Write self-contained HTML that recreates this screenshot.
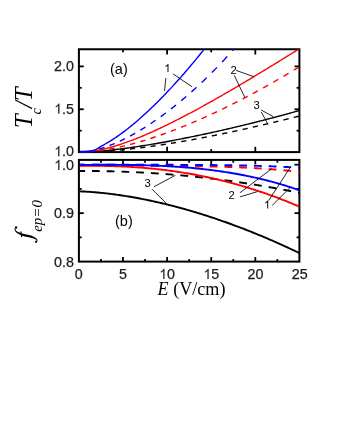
<!DOCTYPE html>
<html><head><meta charset="utf-8"><title>chart</title>
<style>html,body{margin:0;padding:0;background:#fff;}body{width:340px;height:440px;overflow:hidden;position:relative;font-family:"Liberation Sans",sans-serif;}</style></head>
<body>
<svg width="340" height="440" viewBox="0 0 340 440" style="position:absolute;left:0;top:0;will-change:transform">
<rect x="0" y="0" width="340" height="440" fill="#fff"/>
<defs><clipPath id="ct"><rect x="79.90" y="49.26" width="219.80" height="103.84"/></clipPath><clipPath id="cb"><rect x="79.90" y="159.90" width="219.80" height="102.70"/></clipPath></defs>
<g stroke="#000" stroke-width="2.0" fill="none" stroke-linecap="butt">
<rect x="78.9" y="49.26" width="220.49999999999997" height="102.84"/>
<rect x="78.9" y="159.90" width="220.49999999999997" height="101.70"/>
</g>
<g stroke="#000" stroke-width="1.8" fill="none" stroke-linecap="butt">
<line x1="100.95" y1="159.90" x2="100.95" y2="162.70"/>
<line x1="100.95" y1="261.60" x2="100.95" y2="259.10"/>
<line x1="123.00" y1="49.26" x2="123.00" y2="52.26"/>
<line x1="123.00" y1="152.10" x2="123.00" y2="149.10"/>
<line x1="123.00" y1="159.90" x2="123.00" y2="164.30"/>
<line x1="123.00" y1="261.60" x2="123.00" y2="257.10"/>
<line x1="145.05" y1="159.90" x2="145.05" y2="162.70"/>
<line x1="145.05" y1="261.60" x2="145.05" y2="259.10"/>
<line x1="167.10" y1="49.26" x2="167.10" y2="54.56"/>
<line x1="167.10" y1="152.10" x2="167.10" y2="146.80"/>
<line x1="167.10" y1="159.90" x2="167.10" y2="164.30"/>
<line x1="167.10" y1="261.60" x2="167.10" y2="257.10"/>
<line x1="189.15" y1="159.90" x2="189.15" y2="162.70"/>
<line x1="189.15" y1="261.60" x2="189.15" y2="259.10"/>
<line x1="211.20" y1="49.26" x2="211.20" y2="52.26"/>
<line x1="211.20" y1="152.10" x2="211.20" y2="149.10"/>
<line x1="211.20" y1="159.90" x2="211.20" y2="164.30"/>
<line x1="211.20" y1="261.60" x2="211.20" y2="257.10"/>
<line x1="233.25" y1="159.90" x2="233.25" y2="162.70"/>
<line x1="233.25" y1="261.60" x2="233.25" y2="259.10"/>
<line x1="255.30" y1="49.26" x2="255.30" y2="54.56"/>
<line x1="255.30" y1="152.10" x2="255.30" y2="146.80"/>
<line x1="255.30" y1="159.90" x2="255.30" y2="164.30"/>
<line x1="255.30" y1="261.60" x2="255.30" y2="257.10"/>
<line x1="277.35" y1="159.90" x2="277.35" y2="162.70"/>
<line x1="277.35" y1="261.60" x2="277.35" y2="259.10"/>
<line x1="78.90" y1="130.67" x2="81.70" y2="130.67"/>
<line x1="299.40" y1="130.67" x2="296.60" y2="130.67"/>
<line x1="78.90" y1="109.25" x2="83.80" y2="109.25"/>
<line x1="299.40" y1="109.25" x2="294.50" y2="109.25"/>
<line x1="78.90" y1="87.82" x2="81.70" y2="87.82"/>
<line x1="299.40" y1="87.82" x2="296.60" y2="87.82"/>
<line x1="78.90" y1="66.40" x2="83.80" y2="66.40"/>
<line x1="299.40" y1="66.40" x2="294.50" y2="66.40"/>
<line x1="78.90" y1="237.38" x2="81.70" y2="237.38"/>
<line x1="299.40" y1="237.38" x2="296.60" y2="237.38"/>
<line x1="78.90" y1="213.15" x2="83.80" y2="213.15"/>
<line x1="299.40" y1="213.15" x2="294.50" y2="213.15"/>
<line x1="78.90" y1="188.93" x2="81.70" y2="188.93"/>
<line x1="299.40" y1="188.93" x2="296.60" y2="188.93"/>
<line x1="78.90" y1="164.70" x2="83.80" y2="164.70"/>
<line x1="299.40" y1="164.70" x2="294.50" y2="164.70"/>
</g>
<g clip-path="url(#ct)" fill="none" stroke-linecap="butt" stroke-linejoin="round" stroke-width="1.4">
<path d="M78.90,152.10 L79.63,152.10 L80.36,152.10 L81.09,152.09 L81.81,152.09 L82.54,152.08 L83.27,152.07 L84.00,152.06 M89.13,151.95 L89.86,151.93 L90.59,151.91 L91.32,151.89 L92.04,151.86 L92.77,151.84 L93.50,151.81 L94.23,151.78 M99.36,151.54 L100.09,151.50 L100.82,151.46 L101.55,151.42 L102.27,151.38 L103.00,151.34 L103.73,151.29 L104.46,151.25 M109.59,150.90 L110.32,150.84 L111.05,150.79 L111.78,150.73 L112.50,150.67 L113.23,150.62 L113.96,150.56 L114.69,150.50 M119.82,150.04 L120.55,149.98 L121.28,149.91 L122.01,149.84 L122.73,149.77 L123.46,149.70 L124.19,149.62 L124.92,149.55 M130.05,149.01 L130.78,148.93 L131.51,148.85 L132.24,148.77 L132.96,148.68 L133.69,148.60 L134.42,148.52 L135.15,148.43 M140.28,147.81 L141.01,147.72 L141.74,147.63 L142.47,147.53 L143.19,147.44 L143.92,147.35 L144.65,147.25 L145.38,147.15 M150.51,146.46 L151.24,146.36 L151.97,146.26 L152.70,146.16 L153.42,146.05 L154.15,145.95 L154.88,145.84 L155.61,145.74 M160.74,144.98 L161.47,144.87 L162.20,144.76 L162.93,144.65 L163.65,144.54 L164.38,144.42 L165.11,144.31 L165.84,144.20 M170.97,143.38 L171.70,143.26 L172.43,143.14 L173.16,143.02 L173.88,142.90 L174.61,142.78 L175.34,142.66 L176.07,142.54 M181.20,141.66 L181.93,141.54 L182.66,141.41 L183.39,141.28 L184.11,141.16 L184.84,141.03 L185.57,140.90 L186.30,140.77 M191.43,139.85 L192.16,139.71 L192.89,139.58 L193.62,139.45 L194.34,139.31 L195.07,139.18 L195.80,139.04 L196.53,138.91 M201.66,137.94 L202.39,137.80 L203.12,137.66 L203.85,137.52 L204.57,137.38 L205.30,137.24 L206.03,137.09 L206.76,136.95 M211.89,135.94 L212.62,135.79 L213.35,135.65 L214.08,135.50 L214.80,135.36 L215.53,135.21 L216.26,135.06 L216.99,134.91 M222.12,133.86 L222.85,133.71 L223.58,133.56 L224.31,133.41 L225.03,133.26 L225.76,133.10 L226.49,132.95 L227.22,132.80 M232.35,131.71 L233.08,131.55 L233.81,131.40 L234.54,131.24 L235.26,131.08 L235.99,130.92 L236.72,130.77 L237.45,130.61 M242.58,129.48 L243.31,129.32 L244.04,129.16 L244.77,129.00 L245.49,128.84 L246.22,128.68 L246.95,128.51 L247.68,128.35 M252.81,127.19 L253.54,127.03 L254.27,126.86 L255.00,126.69 L255.72,126.53 L256.45,126.36 L257.18,126.19 L257.91,126.03 M263.04,124.84 L263.77,124.67 L264.50,124.50 L265.23,124.33 L265.95,124.16 L266.68,123.99 L267.41,123.81 L268.14,123.64 M273.27,122.43 L274.00,122.25 L274.73,122.08 L275.46,121.90 L276.18,121.73 L276.91,121.55 L277.64,121.38 L278.37,121.20 M283.50,119.96 L284.23,119.78 L284.96,119.60 L285.69,119.42 L286.41,119.24 L287.14,119.06 L287.87,118.88 L288.60,118.70 M293.73,117.43 L294.46,117.25 L295.19,117.07 L295.92,116.89 L296.64,116.71 L297.37,116.52 L298.10,116.34 L298.83,116.16" stroke="#000000"/>
<path d="M78.90,152.10 L80.29,152.09 L81.67,152.08 L83.06,152.05 L84.45,152.02 L85.83,151.98 L87.22,151.93 L88.61,151.87 L89.99,151.80 L91.38,151.73 L92.77,151.65 L94.15,151.56 L95.54,151.47 L96.93,151.37 L98.32,151.27 L99.70,151.16 L101.09,151.04 L102.48,150.92 L103.86,150.79 L105.25,150.66 L106.64,150.53 L108.02,150.39 L109.41,150.24 L110.80,150.09 L112.18,149.94 L113.57,149.79 L114.96,149.62 L116.34,149.46 L117.73,149.29 L119.12,149.12 L120.50,148.95 L121.89,148.77 L123.28,148.59 L124.66,148.41 L126.05,148.22 L127.44,148.03 L128.82,147.84 L130.21,147.64 L131.60,147.44 L132.98,147.24 L134.37,147.04 L135.76,146.83 L137.15,146.62 L138.53,146.41 L139.92,146.20 L141.31,145.98 L142.69,145.76 L144.08,145.54 L145.47,145.32 L146.85,145.09 L148.24,144.87 L149.63,144.64 L151.01,144.41 L152.40,144.17 L153.79,143.94 L155.17,143.70 L156.56,143.46 L157.95,143.22 L159.33,142.97 L160.72,142.73 L162.11,142.48 L163.49,142.23 L164.88,141.98 L166.27,141.73 L167.65,141.47 L169.04,141.22 L170.43,140.96 L171.82,140.70 L173.20,140.44 L174.59,140.18 L175.98,139.91 L177.36,139.64 L178.75,139.38 L180.14,139.11 L181.52,138.83 L182.91,138.56 L184.30,138.29 L185.68,138.01 L187.07,137.73 L188.46,137.45 L189.84,137.17 L191.23,136.89 L192.62,136.61 L194.00,136.32 L195.39,136.03 L196.78,135.75 L198.16,135.46 L199.55,135.17 L200.94,134.87 L202.32,134.58 L203.71,134.28 L205.10,133.98 L206.48,133.69 L207.87,133.39 L209.26,133.08 L210.65,132.78 L212.03,132.48 L213.42,132.17 L214.81,131.86 L216.19,131.56 L217.58,131.25 L218.97,130.93 L220.35,130.62 L221.74,130.31 L223.13,129.99 L224.51,129.67 L225.90,129.36 L227.29,129.04 L228.67,128.71 L230.06,128.39 L231.45,128.07 L232.83,127.74 L234.22,127.42 L235.61,127.09 L236.99,126.76 L238.38,126.43 L239.77,126.09 L241.15,125.76 L242.54,125.43 L243.93,125.09 L245.32,124.75 L246.70,124.41 L248.09,124.07 L249.48,123.73 L250.86,123.39 L252.25,123.04 L253.64,122.70 L255.02,122.35 L256.41,122.00 L257.80,121.65 L259.18,121.30 L260.57,120.94 L261.96,120.59 L263.34,120.23 L264.73,119.88 L266.12,119.52 L267.50,119.16 L268.89,118.80 L270.28,118.43 L271.66,118.07 L273.05,117.70 L274.44,117.34 L275.82,116.97 L277.21,116.60 L278.60,116.23 L279.98,115.86 L281.37,115.48 L282.76,115.11 L284.15,114.73 L285.53,114.35 L286.92,113.97 L288.31,113.59 L289.69,113.21 L291.08,112.82 L292.47,112.44 L293.85,112.05 L295.24,111.66 L296.63,111.27 L298.01,110.88 L299.40,110.49" stroke="#000000"/>
<path d="M78.90,152.10 L79.63,152.10 L80.36,152.09 L81.09,152.08 L81.81,152.07 L82.54,152.05 L83.27,152.03 L84.00,152.00 M89.13,151.72 L89.86,151.67 L90.59,151.61 L91.32,151.55 L92.04,151.48 L92.77,151.42 L93.50,151.35 L94.23,151.27 M99.36,150.67 L100.09,150.57 L100.82,150.47 L101.55,150.37 L102.27,150.27 L103.00,150.16 L103.73,150.05 L104.46,149.93 M109.59,149.07 L110.32,148.93 L111.05,148.80 L111.78,148.66 L112.50,148.52 L113.23,148.38 L113.96,148.23 L114.69,148.08 M119.82,146.98 L120.55,146.82 L121.28,146.65 L122.01,146.48 L122.73,146.31 L123.46,146.14 L124.19,145.97 L124.92,145.79 M130.05,144.49 L130.78,144.30 L131.51,144.11 L132.24,143.91 L132.96,143.72 L133.69,143.52 L134.42,143.32 L135.15,143.11 M140.28,141.64 L141.01,141.43 L141.74,141.21 L142.47,140.99 L143.19,140.77 L143.92,140.55 L144.65,140.32 L145.38,140.10 M150.51,138.47 L151.24,138.23 L151.97,137.99 L152.70,137.75 L153.42,137.51 L154.15,137.27 L154.88,137.02 L155.61,136.78 M160.74,135.01 L161.47,134.75 L162.20,134.49 L162.93,134.23 L163.65,133.97 L164.38,133.71 L165.11,133.44 L165.84,133.18 M170.97,131.28 L171.70,131.00 L172.43,130.72 L173.16,130.45 L173.88,130.17 L174.61,129.89 L175.34,129.61 L176.07,129.32 M181.20,127.30 L181.93,127.01 L182.66,126.71 L183.39,126.42 L184.11,126.13 L184.84,125.83 L185.57,125.53 L186.30,125.23 M191.43,123.09 L192.16,122.79 L192.89,122.48 L193.62,122.17 L194.34,121.86 L195.07,121.54 L195.80,121.23 L196.53,120.92 M201.66,118.67 L202.39,118.35 L203.12,118.02 L203.85,117.70 L204.57,117.37 L205.30,117.05 L206.03,116.72 L206.76,116.39 M211.89,114.04 L212.62,113.70 L213.35,113.37 L214.08,113.03 L214.80,112.69 L215.53,112.34 L216.26,112.00 L216.99,111.66 M222.12,109.21 L222.85,108.86 L223.58,108.51 L224.31,108.15 L225.03,107.80 L225.76,107.44 L226.49,107.09 L227.22,106.73 M232.35,104.19 L233.08,103.82 L233.81,103.46 L234.54,103.09 L235.26,102.72 L235.99,102.36 L236.72,101.99 L237.45,101.62 M242.58,98.98 L243.31,98.60 L244.04,98.22 L244.77,97.84 L245.49,97.46 L246.22,97.08 L246.95,96.70 L247.68,96.31 M252.81,93.59 L253.54,93.19 L254.27,92.80 L255.00,92.41 L255.72,92.02 L256.45,91.62 L257.18,91.23 L257.91,90.83 M263.04,88.01 L263.77,87.61 L264.50,87.20 L265.23,86.80 L265.95,86.39 L266.68,85.98 L267.41,85.57 L268.14,85.16 M273.27,82.26 L274.00,81.84 L274.73,81.42 L275.46,81.00 L276.18,80.58 L276.91,80.16 L277.64,79.74 L278.37,79.32 M283.50,76.32 L284.23,75.89 L284.96,75.46 L285.69,75.03 L286.41,74.60 L287.14,74.17 L287.87,73.73 L288.60,73.30 M293.73,70.21 L294.46,69.77 L295.19,69.32 L295.92,68.88 L296.64,68.43 L297.37,67.99 L298.10,67.54 L298.83,67.09" stroke="#ff0000"/>
<path d="M78.90,152.10 L80.29,152.09 L81.67,152.06 L83.06,152.00 L84.45,151.92 L85.83,151.83 L87.22,151.71 L88.61,151.58 L89.99,151.42 L91.38,151.25 L92.77,151.06 L94.15,150.86 L95.54,150.64 L96.93,150.40 L98.32,150.15 L99.70,149.88 L101.09,149.60 L102.48,149.30 L103.86,148.99 L105.25,148.67 L106.64,148.33 L108.02,147.98 L109.41,147.62 L110.80,147.25 L112.18,146.87 L113.57,146.47 L114.96,146.06 L116.34,145.64 L117.73,145.22 L119.12,144.78 L120.50,144.33 L121.89,143.87 L123.28,143.40 L124.66,142.93 L126.05,142.44 L127.44,141.95 L128.82,141.44 L130.21,140.93 L131.60,140.41 L132.98,139.89 L134.37,139.35 L135.76,138.81 L137.15,138.26 L138.53,137.70 L139.92,137.14 L141.31,136.57 L142.69,135.99 L144.08,135.40 L145.47,134.81 L146.85,134.22 L148.24,133.61 L149.63,133.00 L151.01,132.39 L152.40,131.77 L153.79,131.14 L155.17,130.51 L156.56,129.87 L157.95,129.23 L159.33,128.58 L160.72,127.93 L162.11,127.27 L163.49,126.61 L164.88,125.95 L166.27,125.27 L167.65,124.60 L169.04,123.92 L170.43,123.23 L171.82,122.55 L173.20,121.85 L174.59,121.16 L175.98,120.45 L177.36,119.75 L178.75,119.04 L180.14,118.33 L181.52,117.61 L182.91,116.89 L184.30,116.17 L185.68,115.44 L187.07,114.72 L188.46,113.98 L189.84,113.25 L191.23,112.51 L192.62,111.76 L194.00,111.02 L195.39,110.27 L196.78,109.52 L198.16,108.76 L199.55,108.01 L200.94,107.25 L202.32,106.49 L203.71,105.72 L205.10,104.95 L206.48,104.18 L207.87,103.41 L209.26,102.63 L210.65,101.86 L212.03,101.08 L213.42,100.29 L214.81,99.51 L216.19,98.72 L217.58,97.93 L218.97,97.14 L220.35,96.35 L221.74,95.56 L223.13,94.76 L224.51,93.96 L225.90,93.16 L227.29,92.36 L228.67,91.55 L230.06,90.74 L231.45,89.94 L232.83,89.12 L234.22,88.31 L235.61,87.50 L236.99,86.68 L238.38,85.87 L239.77,85.05 L241.15,84.23 L242.54,83.41 L243.93,82.58 L245.32,81.76 L246.70,80.93 L248.09,80.11 L249.48,79.28 L250.86,78.45 L252.25,77.61 L253.64,76.78 L255.02,75.95 L256.41,75.11 L257.80,74.27 L259.18,73.44 L260.57,72.60 L261.96,71.76 L263.34,70.91 L264.73,70.07 L266.12,69.23 L267.50,68.38 L268.89,67.54 L270.28,66.69 L271.66,65.84 L273.05,64.99 L274.44,64.14 L275.82,63.29 L277.21,62.44 L278.60,61.58 L279.98,60.73 L281.37,59.88 L282.76,59.02 L284.15,58.16 L285.53,57.31 L286.92,56.45 L288.31,55.59 L289.69,54.73 L291.08,53.87 L292.47,53.01 L293.85,52.14 L295.24,51.28 L296.63,50.42 L298.01,49.55 L299.40,48.69" stroke="#ff0000"/>
<path d="M78.90,152.10 L79.63,152.10 L80.36,152.08 L81.09,152.06 L81.81,152.03 L82.54,151.98 L83.27,151.93 L84.00,151.88 M89.13,151.24 L89.86,151.12 L90.59,151.00 L91.32,150.86 L92.04,150.72 L92.77,150.57 L93.50,150.42 L94.23,150.26 M99.36,148.95 L100.09,148.74 L100.82,148.53 L101.55,148.31 L102.27,148.08 L103.00,147.85 L103.73,147.62 L104.46,147.38 M109.59,145.54 L110.32,145.26 L111.05,144.97 L111.78,144.68 L112.50,144.39 L113.23,144.09 L113.96,143.79 L114.69,143.48 M119.82,141.20 L120.55,140.85 L121.28,140.51 L122.01,140.16 L122.73,139.81 L123.46,139.45 L124.19,139.09 L124.92,138.73 M130.05,136.06 L130.78,135.67 L131.51,135.27 L132.24,134.87 L132.96,134.46 L133.69,134.06 L134.42,133.65 L135.15,133.23 M140.28,130.22 L141.01,129.78 L141.74,129.33 L142.47,128.89 L143.19,128.44 L143.92,127.98 L144.65,127.53 L145.38,127.07 M150.51,123.74 L151.24,123.25 L151.97,122.76 L152.70,122.27 L153.42,121.78 L154.15,121.28 L154.88,120.78 L155.61,120.28 M160.74,116.65 L161.47,116.12 L162.20,115.59 L162.93,115.06 L163.65,114.52 L164.38,113.98 L165.11,113.44 L165.84,112.89 M170.97,108.97 L171.70,108.41 L172.43,107.84 L173.16,107.26 L173.88,106.68 L174.61,106.11 L175.34,105.52 L176.07,104.94 M181.20,100.73 L181.93,100.12 L182.66,99.51 L183.39,98.90 L184.11,98.28 L184.84,97.66 L185.57,97.04 L186.30,96.41 M191.43,91.92 L192.16,91.27 L192.89,90.62 L193.62,89.97 L194.34,89.31 L195.07,88.65 L195.80,87.98 L196.53,87.32 M201.66,82.54 L202.39,81.85 L203.12,81.16 L203.85,80.46 L204.57,79.76 L205.30,79.06 L206.03,78.35 L206.76,77.65 M211.89,72.57 L212.62,71.84 L213.35,71.10 L214.08,70.36 L214.80,69.62 L215.53,68.88 L216.26,68.13 L216.99,67.38 M222.12,62.00 L222.85,61.22 L223.58,60.44 L224.31,59.66 L225.03,58.87 L225.76,58.08 L226.49,57.29 L227.22,56.50 M232.35,50.80 L233.08,49.98 L233.81,49.15 L234.54,48.32 L235.26,47.49 L235.99,46.65 L236.72,45.81 L237.45,44.97 M242.58,38.94 L243.31,38.07 L244.04,37.20 L244.77,36.32 L245.49,35.44 L246.22,34.55 L246.95,33.67 L247.68,32.77 M252.81,26.39 L253.54,25.47 L254.27,24.54 L255.00,23.62 L255.72,22.68 L256.45,21.75 L257.18,20.81 L257.91,19.86 M263.04,13.11 L263.77,12.13 L264.50,11.15 L265.23,10.17 L265.95,9.18 L266.68,8.19 L267.41,7.20 L268.14,6.20 M273.27,-0.96 L274.00,-1.99 L274.73,-3.03 L275.46,-4.07 L276.18,-5.11 L276.91,-6.16 L277.64,-7.22 L278.37,-8.28 M283.50,-15.86 L284.23,-16.95 L284.96,-18.05 L285.69,-19.15 L286.41,-20.26 L287.14,-21.37 L287.87,-22.49 L288.60,-23.61 M293.73,-31.65 L294.46,-32.81 L295.19,-33.98 L295.92,-35.15 L296.64,-36.32 L297.37,-37.50 L298.10,-38.69 L298.83,-39.88" stroke="#0000ff"/>
<path d="M78.90,151.71 L80.29,151.71 L81.67,151.70 L83.06,151.69 L84.45,151.67 L85.83,151.62 L87.22,151.55 L88.61,151.45 L89.99,151.29 L91.38,151.02 L92.77,150.66 L94.15,150.24 L95.54,149.65 L96.93,148.91 L98.32,148.11 L99.70,147.20 L101.09,146.32 L102.48,145.54 L103.86,144.78 L105.25,144.00 L106.64,143.18 L108.02,142.36 L109.41,141.53 L110.80,140.69 L112.18,139.83 L113.57,138.94 L114.96,138.03 L116.34,137.11 L117.73,136.16 L119.12,135.19 L120.50,134.20 L121.89,133.19 L123.28,132.17 L124.66,131.12 L126.05,130.06 L127.44,128.99 L128.82,127.89 L130.21,126.78 L131.60,125.65 L132.98,124.51 L134.37,123.35 L135.76,122.18 L137.15,120.99 L138.53,119.79 L139.92,118.58 L141.31,117.35 L142.69,116.10 L144.08,114.85 L145.47,113.58 L146.85,112.29 L148.24,111.00 L149.63,109.69 L151.01,108.36 L152.40,107.03 L153.79,105.68 L155.17,104.32 L156.56,102.95 L157.95,101.57 L159.33,100.18 L160.72,98.77 L162.11,97.35 L163.49,95.92 L164.88,94.48 L166.27,93.03 L167.65,91.57 L169.04,90.10 L170.43,88.61 L171.82,87.12 L173.20,85.61 L174.59,84.09 L175.98,82.56 L177.36,81.03 L178.75,79.48 L180.14,77.92 L181.52,76.35 L182.91,74.77 L184.30,73.18 L185.68,71.58 L187.07,69.97 L188.46,68.35 L189.84,66.71 L191.23,65.07 L192.62,63.42 L194.00,61.76 L195.39,60.09 L196.78,58.41 L198.16,56.72 L199.55,55.01 L200.94,53.30 L202.32,51.58 L203.71,49.85 L205.10,48.11 L206.48,46.36 L207.87,44.59 L209.26,42.82 L210.65,41.04 L212.03,39.25 L213.42,37.45 L214.81,35.64 L216.19,33.82 L217.58,31.99 L218.97,30.15 L220.35,28.30 L221.74,26.44 L223.13,24.56 L224.51,22.68 L225.90,20.79 L227.29,18.89 L228.67,16.98 L230.06,15.06 L231.45,13.13 L232.83,11.19 L234.22,9.24 L235.61,7.28 L236.99,5.31 L238.38,3.32 L239.77,1.33 L241.15,-0.67 L242.54,-2.68 L243.93,-4.70 L245.32,-6.74 L246.70,-8.78 L248.09,-10.83 L249.48,-12.90 L250.86,-14.97 L252.25,-17.06 L253.64,-19.15 L255.02,-21.26 L256.41,-23.38 L257.80,-25.50 L259.18,-27.64 L260.57,-29.79 L261.96,-31.95 L263.34,-34.12 L264.73,-36.30 L266.12,-38.49 L267.50,-40.70 L268.89,-42.91 L270.28,-45.14 L271.66,-47.37 L273.05,-49.62 L274.44,-51.88 L275.82,-54.15 L277.21,-56.43 L278.60,-58.72 L279.98,-61.03 L281.37,-63.34 L282.76,-65.67 L284.15,-68.01 L285.53,-70.36 L286.92,-72.72 L288.31,-75.09 L289.69,-77.48 L291.08,-79.87 L292.47,-82.28 L293.85,-84.70 L295.24,-87.14 L296.63,-89.58 L298.01,-92.04 L299.40,-94.51" stroke="#0000ff"/>
<path d="M79.9,150.8 L94.5,150.6 L95.5,151.0 L90.5,152.6 L79.9,152.6 Z" fill="#0000ff" stroke="none"/>
</g>
<g clip-path="url(#cb)" fill="none" stroke-linecap="butt" stroke-linejoin="round" stroke-width="1.9">
<path d="M78.90,191.33 L80.29,191.38 L81.67,191.43 L83.06,191.49 L84.45,191.56 L85.83,191.63 L87.22,191.71 L88.61,191.80 L89.99,191.89 L91.38,191.99 L92.77,192.09 L94.15,192.20 L95.54,192.32 L96.93,192.44 L98.32,192.57 L99.70,192.70 L101.09,192.83 L102.48,192.98 L103.86,193.12 L105.25,193.27 L106.64,193.43 L108.02,193.59 L109.41,193.76 L110.80,193.93 L112.18,194.10 L113.57,194.28 L114.96,194.47 L116.34,194.66 L117.73,194.85 L119.12,195.05 L120.50,195.25 L121.89,195.46 L123.28,195.67 L124.66,195.89 L126.05,196.11 L127.44,196.33 L128.82,196.56 L130.21,196.79 L131.60,197.03 L132.98,197.27 L134.37,197.52 L135.76,197.77 L137.15,198.02 L138.53,198.28 L139.92,198.54 L141.31,198.81 L142.69,199.08 L144.08,199.36 L145.47,199.63 L146.85,199.92 L148.24,200.20 L149.63,200.49 L151.01,200.79 L152.40,201.09 L153.79,201.39 L155.17,201.70 L156.56,202.01 L157.95,202.32 L159.33,202.64 L160.72,202.96 L162.11,203.29 L163.49,203.62 L164.88,203.95 L166.27,204.29 L167.65,204.63 L169.04,204.98 L170.43,205.32 L171.82,205.68 L173.20,206.03 L174.59,206.39 L175.98,206.76 L177.36,207.13 L178.75,207.50 L180.14,207.87 L181.52,208.25 L182.91,208.63 L184.30,209.02 L185.68,209.41 L187.07,209.80 L188.46,210.20 L189.84,210.60 L191.23,211.00 L192.62,211.41 L194.00,211.82 L195.39,212.24 L196.78,212.66 L198.16,213.08 L199.55,213.50 L200.94,213.93 L202.32,214.37 L203.71,214.80 L205.10,215.24 L206.48,215.69 L207.87,216.13 L209.26,216.58 L210.65,217.04 L212.03,217.50 L213.42,217.96 L214.81,218.42 L216.19,218.89 L217.58,219.36 L218.97,219.84 L220.35,220.31 L221.74,220.80 L223.13,221.28 L224.51,221.77 L225.90,222.26 L227.29,222.76 L228.67,223.26 L230.06,223.76 L231.45,224.26 L232.83,224.77 L234.22,225.28 L235.61,225.80 L236.99,226.32 L238.38,226.84 L239.77,227.37 L241.15,227.90 L242.54,228.43 L243.93,228.97 L245.32,229.50 L246.70,230.05 L248.09,230.59 L249.48,231.14 L250.86,231.69 L252.25,232.25 L253.64,232.81 L255.02,233.37 L256.41,233.94 L257.80,234.51 L259.18,235.08 L260.57,235.65 L261.96,236.23 L263.34,236.82 L264.73,237.40 L266.12,237.99 L267.50,238.58 L268.89,239.18 L270.28,239.77 L271.66,240.38 L273.05,240.98 L274.44,241.59 L275.82,242.20 L277.21,242.81 L278.60,243.43 L279.98,244.05 L281.37,244.68 L282.76,245.30 L284.15,245.93 L285.53,246.57 L286.92,247.20 L288.31,247.84 L289.69,248.49 L291.08,249.13 L292.47,249.78 L293.85,250.44 L295.24,251.09 L296.63,251.75 L298.01,252.41 L299.40,253.08" stroke="#000000"/>
<path d="M78.90,170.99 L79.79,170.98 L80.67,170.98 L81.56,170.98 L82.44,170.98 L83.33,170.98 L84.21,170.98 L85.10,170.98 M92.02,171.01 L93.13,171.02 L94.25,171.03 L95.36,171.04 L96.48,171.05 L97.59,171.06 L98.71,171.08 L99.82,171.09 M106.74,171.22 L107.85,171.24 L108.97,171.26 L110.08,171.29 L111.20,171.32 L112.31,171.35 L113.43,171.38 L114.54,171.41 M121.46,171.62 L122.57,171.66 L123.69,171.70 L124.80,171.74 L125.92,171.79 L127.03,171.83 L128.15,171.88 L129.26,171.92 M136.18,172.23 L137.29,172.29 L138.41,172.34 L139.52,172.40 L140.64,172.46 L141.75,172.52 L142.87,172.58 L143.98,172.64 M150.90,173.05 L152.01,173.12 L153.13,173.19 L154.24,173.26 L155.36,173.33 L156.47,173.41 L157.59,173.48 L158.70,173.56 M165.62,174.07 L166.73,174.15 L167.85,174.24 L168.96,174.33 L170.08,174.42 L171.19,174.51 L172.31,174.60 L173.42,174.69 M180.34,175.29 L181.45,175.39 L182.57,175.49 L183.68,175.60 L184.80,175.70 L185.91,175.81 L187.03,175.92 L188.14,176.02 M195.06,176.72 L196.17,176.84 L197.29,176.96 L198.40,177.08 L199.52,177.20 L200.63,177.32 L201.75,177.44 L202.86,177.57 M209.78,178.36 L210.89,178.50 L212.01,178.63 L213.12,178.77 L214.24,178.90 L215.35,179.04 L216.47,179.18 L217.58,179.32 M224.50,180.21 L225.61,180.36 L226.73,180.51 L227.84,180.66 L228.96,180.81 L230.07,180.97 L231.19,181.12 L232.30,181.28 M239.22,182.27 L240.33,182.44 L241.45,182.60 L242.56,182.77 L243.68,182.94 L244.79,183.10 L245.91,183.27 L247.02,183.45 M253.94,184.54 L255.05,184.72 L256.17,184.90 L257.28,185.08 L258.40,185.27 L259.51,185.45 L260.63,185.64 L261.74,185.83 M268.66,187.02 L269.77,187.21 L270.89,187.41 L272.00,187.61 L273.12,187.81 L274.23,188.01 L275.35,188.21 L276.46,188.42 M283.38,189.71 L284.49,189.92 L285.61,190.13 L286.72,190.35 L287.84,190.56 L288.95,190.78 L290.07,191.00 L291.18,191.22 M298.10,192.61 L298.43,192.67 L298.76,192.74 L299.09,192.81 L299.41,192.88 L299.74,192.94 L300.07,193.01 L300.40,193.08" stroke="#000000"/>
<path d="M78.90,165.91 L80.29,165.89 L81.67,165.88 L83.06,165.86 L84.45,165.85 L85.83,165.84 L87.22,165.83 L88.61,165.82 L89.99,165.82 L91.38,165.81 L92.77,165.81 L94.15,165.82 L95.54,165.82 L96.93,165.83 L98.32,165.84 L99.70,165.85 L101.09,165.87 L102.48,165.89 L103.86,165.91 L105.25,165.93 L106.64,165.96 L108.02,165.99 L109.41,166.02 L110.80,166.06 L112.18,166.09 L113.57,166.14 L114.96,166.18 L116.34,166.23 L117.73,166.28 L119.12,166.33 L120.50,166.39 L121.89,166.45 L123.28,166.52 L124.66,166.58 L126.05,166.65 L127.44,166.73 L128.82,166.80 L130.21,166.88 L131.60,166.97 L132.98,167.05 L134.37,167.15 L135.76,167.24 L137.15,167.34 L138.53,167.44 L139.92,167.54 L141.31,167.65 L142.69,167.76 L144.08,167.88 L145.47,168.00 L146.85,168.12 L148.24,168.24 L149.63,168.37 L151.01,168.51 L152.40,168.64 L153.79,168.78 L155.17,168.93 L156.56,169.08 L157.95,169.23 L159.33,169.38 L160.72,169.54 L162.11,169.70 L163.49,169.87 L164.88,170.04 L166.27,170.22 L167.65,170.39 L169.04,170.58 L170.43,170.76 L171.82,170.95 L173.20,171.15 L174.59,171.34 L175.98,171.55 L177.36,171.75 L178.75,171.96 L180.14,172.18 L181.52,172.39 L182.91,172.61 L184.30,172.84 L185.68,173.07 L187.07,173.30 L188.46,173.54 L189.84,173.78 L191.23,174.03 L192.62,174.28 L194.00,174.53 L195.39,174.79 L196.78,175.05 L198.16,175.32 L199.55,175.59 L200.94,175.86 L202.32,176.14 L203.71,176.43 L205.10,176.71 L206.48,177.00 L207.87,177.30 L209.26,177.60 L210.65,177.90 L212.03,178.21 L213.42,178.53 L214.81,178.84 L216.19,179.16 L217.58,179.49 L218.97,179.82 L220.35,180.15 L221.74,180.49 L223.13,180.83 L224.51,181.18 L225.90,181.53 L227.29,181.89 L228.67,182.25 L230.06,182.61 L231.45,182.98 L232.83,183.36 L234.22,183.73 L235.61,184.12 L236.99,184.50 L238.38,184.89 L239.77,185.29 L241.15,185.69 L242.54,186.09 L243.93,186.50 L245.32,186.92 L246.70,187.33 L248.09,187.76 L249.48,188.18 L250.86,188.61 L252.25,189.05 L253.64,189.49 L255.02,189.94 L256.41,190.39 L257.80,190.84 L259.18,191.30 L260.57,191.76 L261.96,192.23 L263.34,192.70 L264.73,193.18 L266.12,193.66 L267.50,194.15 L268.89,194.64 L270.28,195.13 L271.66,195.64 L273.05,196.14 L274.44,196.65 L275.82,197.16 L277.21,197.68 L278.60,198.21 L279.98,198.74 L281.37,199.27 L282.76,199.81 L284.15,200.35 L285.53,200.90 L286.92,201.45 L288.31,202.01 L289.69,202.57 L291.08,203.13 L292.47,203.70 L293.85,204.28 L295.24,204.86 L296.63,205.45 L298.01,206.04 L299.40,206.63" stroke="#ff0000"/>
<path d="M78.90,165.28 L79.79,165.28 L80.67,165.29 L81.56,165.29 L82.44,165.30 L83.33,165.30 L84.21,165.31 L85.10,165.31 M92.02,165.35 L93.13,165.35 L94.25,165.36 L95.36,165.36 L96.48,165.37 L97.59,165.38 L98.71,165.38 L99.82,165.39 M106.74,165.42 L107.85,165.43 L108.97,165.43 L110.08,165.44 L111.20,165.45 L112.31,165.45 L113.43,165.46 L114.54,165.46 M121.46,165.50 L122.57,165.51 L123.69,165.51 L124.80,165.52 L125.92,165.53 L127.03,165.53 L128.15,165.54 L129.26,165.54 M136.18,165.59 L137.29,165.59 L138.41,165.60 L139.52,165.61 L140.64,165.61 L141.75,165.62 L142.87,165.63 L143.98,165.63 M150.90,165.68 L152.01,165.69 L153.13,165.70 L154.24,165.71 L155.36,165.71 L156.47,165.72 L157.59,165.73 L158.70,165.74 M165.62,165.80 L166.73,165.81 L167.85,165.82 L168.96,165.83 L170.08,165.84 L171.19,165.85 L172.31,165.86 L173.42,165.88 M180.34,165.95 L181.45,165.97 L182.57,165.98 L183.68,166.00 L184.80,166.01 L185.91,166.02 L187.03,166.04 L188.14,166.06 M195.06,166.16 L196.17,166.18 L197.29,166.20 L198.40,166.22 L199.52,166.24 L200.63,166.26 L201.75,166.28 L202.86,166.30 M209.78,166.45 L210.89,166.47 L212.01,166.50 L213.12,166.53 L214.24,166.55 L215.35,166.58 L216.47,166.61 L217.58,166.64 M224.50,166.84 L225.61,166.87 L226.73,166.91 L227.84,166.95 L228.96,166.98 L230.07,167.02 L231.19,167.06 L232.30,167.10 M239.22,167.37 L240.33,167.42 L241.45,167.46 L242.56,167.51 L243.68,167.56 L244.79,167.62 L245.91,167.67 L247.02,167.72 M253.94,168.08 L255.05,168.14 L256.17,168.21 L257.28,168.27 L258.40,168.34 L259.51,168.41 L260.63,168.48 L261.74,168.55 M268.66,169.02 L269.77,169.10 L270.89,169.18 L272.00,169.27 L273.12,169.36 L274.23,169.44 L275.35,169.53 L276.46,169.63 M283.38,170.24 L284.49,170.34 L285.61,170.45 L286.72,170.56 L287.84,170.67 L288.95,170.79 L290.07,170.90 L291.18,171.02 M298.10,171.80 L298.43,171.84 L298.76,171.88 L299.09,171.92 L299.41,171.96 L299.74,172.00 L300.07,172.04 L300.40,172.08" stroke="#ff0000"/>
<path d="M78.90,164.90 L80.29,164.89 L81.67,164.88 L83.06,164.87 L84.45,164.86 L85.83,164.86 L87.22,164.85 L88.61,164.84 L89.99,164.83 L91.38,164.83 L92.77,164.82 L94.15,164.82 L95.54,164.81 L96.93,164.81 L98.32,164.80 L99.70,164.80 L101.09,164.79 L102.48,164.79 L103.86,164.79 L105.25,164.79 L106.64,164.79 L108.02,164.79 L109.41,164.79 L110.80,164.80 L112.18,164.80 L113.57,164.81 L114.96,164.81 L116.34,164.82 L117.73,164.83 L119.12,164.84 L120.50,164.85 L121.89,164.86 L123.28,164.87 L124.66,164.89 L126.05,164.90 L127.44,164.92 L128.82,164.94 L130.21,164.96 L131.60,164.98 L132.98,165.00 L134.37,165.03 L135.76,165.06 L137.15,165.08 L138.53,165.11 L139.92,165.15 L141.31,165.18 L142.69,165.21 L144.08,165.25 L145.47,165.29 L146.85,165.33 L148.24,165.37 L149.63,165.42 L151.01,165.47 L152.40,165.52 L153.79,165.57 L155.17,165.62 L156.56,165.68 L157.95,165.74 L159.33,165.80 L160.72,165.86 L162.11,165.92 L163.49,165.99 L164.88,166.06 L166.27,166.13 L167.65,166.21 L169.04,166.29 L170.43,166.37 L171.82,166.45 L173.20,166.53 L174.59,166.62 L175.98,166.71 L177.36,166.81 L178.75,166.90 L180.14,167.00 L181.52,167.10 L182.91,167.21 L184.30,167.32 L185.68,167.43 L187.07,167.54 L188.46,167.66 L189.84,167.78 L191.23,167.90 L192.62,168.03 L194.00,168.16 L195.39,168.29 L196.78,168.43 L198.16,168.57 L199.55,168.71 L200.94,168.86 L202.32,169.01 L203.71,169.16 L205.10,169.32 L206.48,169.48 L207.87,169.64 L209.26,169.81 L210.65,169.98 L212.03,170.16 L213.42,170.34 L214.81,170.52 L216.19,170.71 L217.58,170.90 L218.97,171.09 L220.35,171.29 L221.74,171.49 L223.13,171.70 L224.51,171.91 L225.90,172.12 L227.29,172.34 L228.67,172.56 L230.06,172.79 L231.45,173.02 L232.83,173.25 L234.22,173.49 L235.61,173.74 L236.99,173.98 L238.38,174.24 L239.77,174.49 L241.15,174.75 L242.54,175.02 L243.93,175.29 L245.32,175.57 L246.70,175.84 L248.09,176.13 L249.48,176.42 L250.86,176.71 L252.25,177.01 L253.64,177.31 L255.02,177.62 L256.41,177.93 L257.80,178.25 L259.18,178.57 L260.57,178.90 L261.96,179.23 L263.34,179.57 L264.73,179.91 L266.12,180.26 L267.50,180.61 L268.89,180.97 L270.28,181.33 L271.66,181.70 L273.05,182.07 L274.44,182.45 L275.82,182.84 L277.21,183.23 L278.60,183.62 L279.98,184.02 L281.37,184.43 L282.76,184.84 L284.15,185.26 L285.53,185.68 L286.92,186.11 L288.31,186.54 L289.69,186.98 L291.08,187.43 L292.47,187.88 L293.85,188.34 L295.24,188.80 L296.63,189.27 L298.01,189.74 L299.40,190.22" stroke="#0000ff"/>
<path d="M78.90,164.63 L79.79,164.63 L80.67,164.63 L81.56,164.63 L82.44,164.63 L83.33,164.64 L84.21,164.64 L85.10,164.64 M92.02,164.65 L93.13,164.65 L94.25,164.65 L95.36,164.65 L96.48,164.65 L97.59,164.66 L98.71,164.66 L99.82,164.66 M106.74,164.67 L107.85,164.67 L108.97,164.67 L110.08,164.67 L111.20,164.68 L112.31,164.68 L113.43,164.68 L114.54,164.68 M121.46,164.69 L122.57,164.69 L123.69,164.69 L124.80,164.70 L125.92,164.70 L127.03,164.70 L128.15,164.70 L129.26,164.70 M136.18,164.71 L137.29,164.72 L138.41,164.72 L139.52,164.72 L140.64,164.72 L141.75,164.72 L142.87,164.73 L143.98,164.73 M150.90,164.74 L152.01,164.75 L153.13,164.75 L154.24,164.75 L155.36,164.75 L156.47,164.76 L157.59,164.76 L158.70,164.76 M165.62,164.78 L166.73,164.78 L167.85,164.79 L168.96,164.79 L170.08,164.79 L171.19,164.80 L172.31,164.80 L173.42,164.81 M180.34,164.83 L181.45,164.84 L182.57,164.84 L183.68,164.85 L184.80,164.85 L185.91,164.86 L187.03,164.86 L188.14,164.87 M195.06,164.91 L196.17,164.92 L197.29,164.92 L198.40,164.93 L199.52,164.94 L200.63,164.95 L201.75,164.96 L202.86,164.96 M209.78,165.02 L210.89,165.03 L212.01,165.04 L213.12,165.06 L214.24,165.07 L215.35,165.08 L216.47,165.09 L217.58,165.10 M224.50,165.19 L225.61,165.20 L226.73,165.22 L227.84,165.24 L228.96,165.25 L230.07,165.27 L231.19,165.29 L232.30,165.30 M239.22,165.43 L240.33,165.45 L241.45,165.47 L242.56,165.49 L243.68,165.52 L244.79,165.54 L245.91,165.56 L247.02,165.59 M253.94,165.76 L255.05,165.79 L256.17,165.82 L257.28,165.85 L258.40,165.88 L259.51,165.92 L260.63,165.95 L261.74,165.98 M268.66,166.21 L269.77,166.26 L270.89,166.30 L272.00,166.34 L273.12,166.38 L274.23,166.43 L275.35,166.47 L276.46,166.52 M283.38,166.83 L284.49,166.88 L285.61,166.94 L286.72,166.99 L287.84,167.05 L288.95,167.11 L290.07,167.17 L291.18,167.23 M298.10,167.63 L298.43,167.65 L298.76,167.68 L299.09,167.70 L299.41,167.72 L299.74,167.74 L300.07,167.76 L300.40,167.78" stroke="#0000ff"/>
</g>
<g stroke="#000" stroke-width="0.85" fill="none">
<line x1="173.1" y1="73.9" x2="192.1" y2="86.8"/>
<line x1="165.9" y1="78.0" x2="164.5" y2="90.9"/>
<line x1="236.1" y1="70.4" x2="253.8" y2="76.7"/>
<line x1="234.3" y1="75.4" x2="244.9" y2="97.6"/>
<line x1="261.2" y1="110.0" x2="273.4" y2="116.7"/>
<line x1="261.2" y1="111.9" x2="268.1" y2="124.4"/>
<line x1="154.1" y1="186.7" x2="175.3" y2="175.3"/>
<line x1="152.1" y1="189.2" x2="166.1" y2="203.2"/>
<line x1="239.9" y1="192.8" x2="271.6" y2="168.8"/>
<line x1="239.9" y1="196.9" x2="257.5" y2="191.6"/>
<line x1="268.7" y1="200.5" x2="290.6" y2="166.9"/>
<line x1="272.2" y1="205.4" x2="290.1" y2="187.5"/>
</g>
<g font-family="Liberation Sans, sans-serif" font-size="14.3" fill="#1c1c1c" stroke="#1c1c1c" stroke-width="0.25">
<path d="M763 0H583V1147Q518 1085 412.5 1023T223 930V1104Q374 1175 487 1276T647 1472H763Z" transform="translate(54.12,156.35) scale(0.00698,-0.00698)"/><text x="62.07" y="156.35">.0</text>
<path d="M763 0H583V1147Q518 1085 412.5 1023T223 930V1104Q374 1175 487 1276T647 1472H763Z" transform="translate(54.12,113.85) scale(0.00698,-0.00698)"/><text x="62.07" y="113.85">.5</text>
<text x="54.12" y="71.35">2.0</text>
<text x="54.12" y="266.95">0.8</text>
<text x="54.12" y="217.95">0.9</text>
<path d="M763 0H583V1147Q518 1085 412.5 1023T223 930V1104Q374 1175 487 1276T647 1472H763Z" transform="translate(54.12,169.95) scale(0.00698,-0.00698)"/><text x="62.07" y="169.95">.0</text>
<text x="74.72" y="279.10">0</text>
<text x="118.92" y="279.10">5</text>
<path d="M763 0H583V1147Q518 1085 412.5 1023T223 930V1104Q374 1175 487 1276T647 1472H763Z" transform="translate(159.15,279.10) scale(0.00698,-0.00698)"/><text x="167.10" y="279.10">0</text>
<path d="M763 0H583V1147Q518 1085 412.5 1023T223 930V1104Q374 1175 487 1276T647 1472H763Z" transform="translate(203.35,279.10) scale(0.00698,-0.00698)"/><text x="211.30" y="279.10">5</text>
<text x="247.55" y="279.10">20</text>
<text x="291.75" y="279.10">25</text>
</g>
<g font-family="Liberation Sans, sans-serif" font-size="14.5" fill="#000">
<text x="110" y="73.9">(a)</text>
<text x="115" y="225.9">(b)</text>
</g>
<g font-family="Liberation Sans, sans-serif" font-size="11.2" fill="#000">
<path d="M763 0H583V1147Q518 1085 412.5 1023T223 930V1104Q374 1175 487 1276T647 1472H763Z" transform="translate(164.30,72.00) scale(0.00547,-0.00547)"/>
<text x="230.4" y="73.5">2</text>
<text x="253.4" y="109.1">3</text>
<text x="144.5" y="186.8">3</text>
<text x="228.6" y="198.7">2</text>
<path d="M763 0H583V1147Q518 1085 412.5 1023T223 930V1104Q374 1175 487 1276T647 1472H763Z" transform="translate(264.00,208.50) scale(0.00547,-0.00547)"/>
</g>
<text font-family="Liberation Serif, serif" font-size="18.15" x="157.5" y="294.5" fill="#000"><tspan font-style="italic">E</tspan> (V/cm)</text>
<text font-family="Liberation Serif, serif" font-style="italic" font-size="25" fill="#000" transform="translate(32.2,128.2) rotate(-90)">T</text>
<text font-family="Liberation Serif, serif" font-style="italic" font-size="14.5" fill="#000" transform="translate(41.4,114.6) rotate(-90)">c</text>
<text font-family="Liberation Serif, serif" font-style="italic" font-size="25" fill="#000" transform="translate(32.2,108) rotate(-90)">/</text>
<text font-family="Liberation Serif, serif" font-style="italic" font-size="25" fill="#000" transform="translate(32.2,101.2) rotate(-90)">T</text>
<path d="M16.27,227.50 L15.50,227.67 L14.94,228.05 L14.62,228.59 L14.53,229.19 L14.60,229.79 L14.79,230.36 L15.05,230.90 L15.36,231.39 L15.72,231.82 L16.10,232.22 L16.51,232.57 L16.93,232.89 L17.36,233.20 L17.79,233.49 L18.23,233.77 L18.67,234.03 L19.13,234.29 L19.58,234.52 L20.04,234.75 L20.51,234.96 L20.97,235.17 L21.45,235.37 L21.92,235.56 L22.40,235.74 L22.88,235.92 L23.37,236.08 L23.86,236.24 L24.36,236.38 L24.86,236.50 L25.37,236.61 L25.87,236.72 L26.37,236.81 L26.86,236.90 L27.35,236.99 L27.83,237.07 L28.31,237.16 L28.78,237.25 L29.25,237.35 L29.71,237.46 L30.17,237.56 L30.63,237.67 L31.10,237.79 L31.56,237.91 L32.02,238.03 L32.48,238.16 L32.94,238.30 L33.39,238.45 L33.83,238.60 L34.26,238.75 L34.67,238.92 L35.06,239.12 L35.45,239.36 L35.83,239.65 L36.19,239.99 L36.47,240.35 L36.63,240.64 L36.65,240.83 L36.54,241.00 L36.09,241.21 L36.31,241.99 L37.04,241.67 L37.48,241.12 L37.54,240.47 L37.35,239.87 L37.04,239.32 L36.66,238.84 L36.26,238.41 L35.84,238.02 L35.41,237.68 L34.97,237.38 L34.52,237.11 L34.07,236.86 L33.62,236.63 L33.16,236.41 L32.70,236.19 L32.23,235.99 L31.75,235.79 L31.26,235.60 L30.76,235.44 L30.26,235.29 L29.75,235.15 L29.25,235.04 L28.75,234.93 L28.25,234.83 L27.76,234.74 L27.27,234.65 L26.79,234.56 L26.32,234.46 L25.85,234.37 L25.39,234.26 L24.93,234.15 L24.47,234.04 L24.01,233.92 L23.55,233.80 L23.09,233.67 L22.62,233.53 L22.16,233.39 L21.70,233.25 L21.24,233.09 L20.78,232.94 L20.32,232.78 L19.87,232.63 L19.42,232.46 L18.97,232.29 L18.53,232.11 L18.10,231.92 L17.68,231.71 L17.27,231.49 L16.88,231.25 L16.52,230.99 L16.19,230.69 L15.91,230.36 L15.66,229.96 L15.49,229.55 L15.40,229.16 L15.43,228.84 L15.55,228.61 L15.81,228.42 L16.33,228.30Z" fill="#000"/><circle cx="16.1" cy="227.5" r="1.15" fill="#000"/><circle cx="36.0" cy="241.8" r="1.15" fill="#000"/><line x1="20.8" y1="231.4" x2="21.7" y2="237.1" stroke="#000" stroke-width="1.15"/>
<text font-family="Liberation Serif, serif" font-style="italic" font-size="15" fill="#000" transform="translate(41.7,231.8) rotate(-90)">ep=0</text>
</svg>
</body></html>
